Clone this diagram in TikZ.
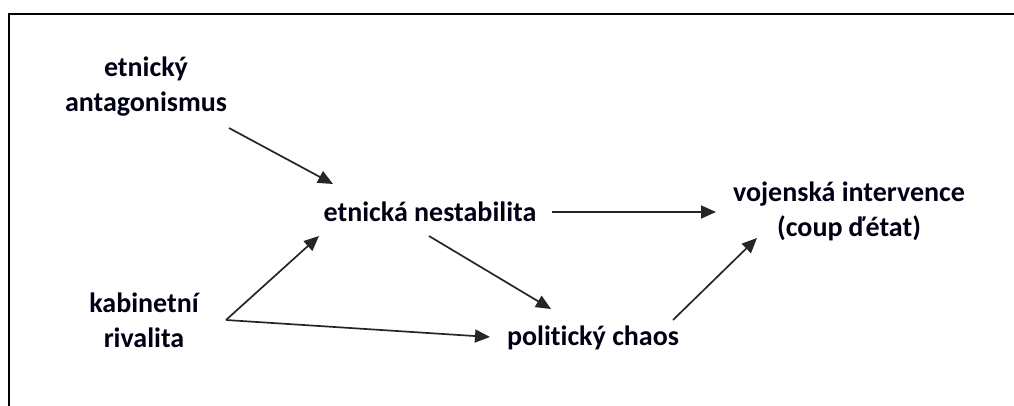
\documentclass[tikz,border=0pt]{standalone}
\usepackage{fontspec}
\setmainfont{Carlito}[Ligatures={NoCommon}]
\usetikzlibrary{arrows.meta}
\begin{document}
\begin{tikzpicture}[x=1pt,y=-1pt,
  lbl/.style={font=\bfseries\fontsize{28}{35}\selectfont, align=center, inner sep=0pt, text=black!92!blue},
  arr/.style={-{Triangle[length=15pt,width=13pt]}, line width=1.7pt, draw=black!85}]
  \clip (0,0) rectangle (1014,405);
  \useasboundingbox (0,0) rectangle (1014,405);
  % outer frame (only the top and left sides fall inside the page)
  \draw[line width=2pt] (8.5,420) |- (1030,13.5);

  \node[lbl] (ant)   at (146,87)  {etnický\\antagonismus};
  \node[lbl] (nest)  at (430,212) {etnická nestabilita};
  \node[lbl] (voj)   at (849,211) {vojenská intervence\\(coup ďétat)};
  \node[lbl] (kab)   at (144,320) {kabinetní\\rivalita};
  \node[lbl] (chaos) at (593,338) {politický chaos};

  \draw[arr] ([shift={(83,41)}]ant.center)   -- ([shift={(-97,-28)}]nest.center);
  \draw[arr] ([shift={(82,0)}]kab.center)    -- ([shift={(-111,24)}]nest.center);
  \draw[arr] ([shift={(82,0)}]kab.center)    -- ([shift={(-103,-1)}]chaos.center);
  \draw[arr] ([shift={(122,0)}]nest.center)  -- ([shift={(-133,1)}]voj.center);
  \draw[arr] ([shift={(-1,24)}]nest.center)  -- ([shift={(-42,-29)}]chaos.center);
  \draw[arr] ([shift={(80,-18)}]chaos.center) -- ([shift={(-92,27)}]voj.center);
\end{tikzpicture}
\end{document}
